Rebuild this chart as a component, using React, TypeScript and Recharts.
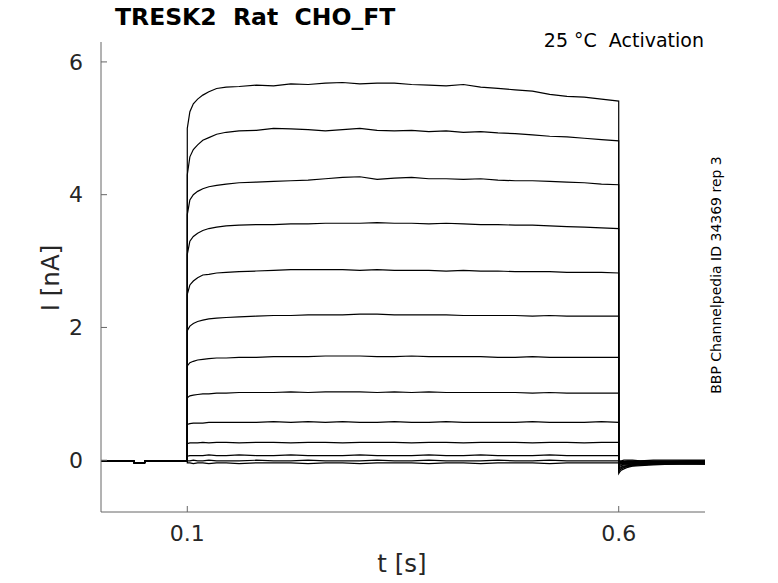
import { Line, LineChart, XAxis, YAxis } from 'recharts'

// holding period before the step (shared by every sweep)
const preT = [0, 0.038, 0.0385, 0.0505, 0.051, 0.1]
const preV = [-0.01, -0.01, -0.04, -0.04, -0.01, -0.01]

// time grid during the activation step
const pulseT = [
  0.1, 0.103, 0.107, 0.112, 0.118, 0.125, 0.134, 0.145, 0.16, 0.18, 0.2,
  0.22, 0.24, 0.26, 0.28, 0.3, 0.32, 0.34, 0.36, 0.38, 0.4, 0.42, 0.44,
  0.46, 0.48, 0.5, 0.52, 0.54, 0.56, 0.58, 0.6
]

const sweep1 = [5.0, 5.25, 5.37, 5.44, 5.5, 5.55, 5.6, 5.62, 5.63, 5.65, 5.64, 5.67, 5.66, 5.68, 5.69, 5.67, 5.68, 5.68, 5.66, 5.65, 5.64, 5.66, 5.62, 5.6, 5.58, 5.56, 5.51, 5.48, 5.47, 5.44, 5.41]
const sweep2 = [4.3, 4.57, 4.68, 4.75, 4.82, 4.86, 4.91, 4.94, 4.96, 4.97, 5.0, 4.99, 4.98, 4.96, 4.98, 5.0, 4.97, 4.96, 4.97, 4.95, 4.96, 4.94, 4.95, 4.93, 4.92, 4.9, 4.88, 4.87, 4.85, 4.83, 4.81]
const sweep3 = [3.7, 3.92, 4.0, 4.05, 4.09, 4.12, 4.14, 4.16, 4.18, 4.19, 4.2, 4.21, 4.22, 4.24, 4.26, 4.27, 4.23, 4.25, 4.26, 4.24, 4.24, 4.23, 4.24, 4.22, 4.21, 4.21, 4.2, 4.19, 4.18, 4.16, 4.15]
const sweep4 = [3.1, 3.3, 3.37, 3.42, 3.46, 3.49, 3.51, 3.53, 3.54, 3.55, 3.55, 3.56, 3.56, 3.57, 3.57, 3.57, 3.58, 3.57, 3.57, 3.56, 3.57, 3.56, 3.55, 3.55, 3.54, 3.54, 3.53, 3.52, 3.51, 3.5, 3.49]
const sweep5 = [2.5, 2.64, 2.7, 2.75, 2.79, 2.8, 2.82, 2.83, 2.84, 2.85, 2.86, 2.87, 2.87, 2.87, 2.87, 2.86, 2.87, 2.86, 2.86, 2.86, 2.85, 2.86, 2.85, 2.85, 2.84, 2.84, 2.84, 2.83, 2.83, 2.83, 2.82]
const sweep6 = [1.95, 2.02, 2.06, 2.09, 2.11, 2.13, 2.14, 2.15, 2.16, 2.17, 2.18, 2.18, 2.19, 2.19, 2.19, 2.2, 2.2, 2.19, 2.19, 2.19, 2.19, 2.18, 2.18, 2.18, 2.18, 2.17, 2.18, 2.17, 2.17, 2.17, 2.17]
const sweep7 = [1.42, 1.47, 1.49, 1.51, 1.52, 1.53, 1.54, 1.54, 1.55, 1.55, 1.56, 1.56, 1.56, 1.57, 1.57, 1.57, 1.56, 1.56, 1.57, 1.56, 1.56, 1.56, 1.56, 1.55, 1.55, 1.56, 1.55, 1.55, 1.55, 1.55, 1.55]
const sweep8 = [0.94, 0.97, 0.98, 0.99, 1.0, 1.0, 1.01, 1.01, 1.02, 1.02, 1.02, 1.03, 1.02, 1.03, 1.03, 1.03, 1.02, 1.03, 1.02, 1.03, 1.02, 1.02, 1.02, 1.02, 1.02, 1.01, 1.02, 1.01, 1.01, 1.01, 1.01]
const sweep9 = [0.54, 0.55, 0.56, 0.56, 0.56, 0.57, 0.57, 0.57, 0.57, 0.57, 0.58, 0.57, 0.58, 0.57, 0.58, 0.57, 0.57, 0.58, 0.57, 0.57, 0.58, 0.57, 0.57, 0.57, 0.57, 0.58, 0.57, 0.57, 0.57, 0.58, 0.57]
const sweep10 = [0.25, 0.26, 0.26, 0.26, 0.27, 0.26, 0.27, 0.27, 0.26, 0.27, 0.27, 0.26, 0.27, 0.27, 0.26, 0.27, 0.27, 0.27, 0.26, 0.27, 0.27, 0.26, 0.27, 0.27, 0.27, 0.26, 0.27, 0.27, 0.26, 0.27, 0.27]
const sweep11 = [0.06, 0.07, 0.07, 0.07, 0.07, 0.08, 0.07, 0.07, 0.08, 0.07, 0.07, 0.08, 0.07, 0.07, 0.07, 0.08, 0.07, 0.07, 0.07, 0.08, 0.07, 0.07, 0.08, 0.07, 0.07, 0.07, 0.08, 0.07, 0.07, 0.07, 0.07]
const sweep12 = [-0.01, -0.01, 0, -0.01, -0.01, 0, -0.01, -0.01, -0.01, 0, -0.01, -0.01, 0, -0.01, -0.01, -0.01, 0, -0.01, -0.01, 0, -0.01, -0.01, -0.01, 0, -0.01, -0.01, 0, -0.01, -0.01, -0.01, -0.01]
const sweep13 = [-0.04, -0.04, -0.05, -0.04, -0.04, -0.05, -0.04, -0.04, -0.05, -0.04, -0.04, -0.04, -0.05, -0.04, -0.04, -0.05, -0.04, -0.04, -0.04, -0.05, -0.04, -0.04, -0.05, -0.04, -0.04, -0.04, -0.05, -0.04, -0.04, -0.04, -0.04]

// deactivation tail after the step
const tailT = [0.6, 0.601, 0.603, 0.606, 0.61, 0.616, 0.625, 0.64, 0.66, 0.68, 0.7]

const tail1 = [-0.2, -0.18, -0.15, -0.13, -0.11, -0.09, -0.08, -0.07, -0.06, -0.06, -0.06]
const tail2 = [-0.17, -0.15, -0.13, -0.11, -0.1, -0.08, -0.07, -0.06, -0.06, -0.05, -0.06]
const tail3 = [-0.14, -0.13, -0.11, -0.1, -0.09, -0.07, -0.06, -0.06, -0.05, -0.05, -0.05]
const tail4 = [-0.12, -0.11, -0.1, -0.09, -0.08, -0.07, -0.06, -0.05, -0.05, -0.05, -0.05]
const tail5 = [-0.1, -0.09, -0.08, -0.07, -0.07, -0.06, -0.05, -0.05, -0.05, -0.04, -0.04]
const tail6 = [-0.08, -0.07, -0.07, -0.06, -0.06, -0.05, -0.05, -0.04, -0.04, -0.04, -0.04]
const tail7 = [-0.06, -0.06, -0.05, -0.05, -0.05, -0.04, -0.04, -0.04, -0.03, -0.03, -0.03]
const tail8 = [-0.05, -0.05, -0.04, -0.04, -0.04, -0.04, -0.03, -0.03, -0.03, -0.03, -0.03]
const tail9 = [-0.04, -0.04, -0.03, -0.03, -0.03, -0.03, -0.03, -0.02, -0.02, -0.02, -0.02]
const tail10 = [-0.03, -0.03, -0.03, -0.02, -0.02, -0.02, -0.02, -0.02, -0.02, -0.01, -0.01]
const tail11 = [-0.02, -0.02, -0.02, -0.02, -0.01, -0.01, -0.01, -0.01, -0.01, -0.01, -0.01]
const tail12 = [-0.01, -0.01, -0.01, 0, 0, 0, -0.01, 0, 0, 0, 0]
const tail13 = [-0.04, -0.04, -0.03, -0.03, -0.03, -0.03, -0.03, -0.03, -0.03, -0.03, -0.03]

const sweeps = [sweep1, sweep2, sweep3, sweep4, sweep5, sweep6, sweep7, sweep8, sweep9, sweep10, sweep11, sweep12, sweep13]
const tails = [tail1, tail2, tail3, tail4, tail5, tail6, tail7, tail8, tail9, tail10, tail11, tail12, tail13]

const xTicks = [0.1, 0.6]
const yTicks = [0, 2, 4, 6]

const traces = sweeps.map((sweep, i) => [
  ...preT.map((t, j) => ({ t, v: preV[j] })),
  ...pulseT.map((t, j) => ({ t, v: sweep[j] })),
  ...tailT.map((t, j) => ({ t, v: tails[i][j] }))
])

const font = '"DejaVu Sans", sans-serif'
const axisColor = '#666'
const textColor = '#262626'

export default function App() {
  return (
    <div style={{ position: 'absolute', left: 0, top: 0, width: 778, height: 583, background: '#fff', fontFamily: font }}>
      <LineChart
        width={778}
        height={583}
        margin={{ top: 42, right: 73, bottom: 31, left: 41 }}
      >
        <XAxis
          dataKey="t"
          type="number"
          domain={[0, 0.7]}
          ticks={xTicks}
          height={40}
          allowDataOverflow
          stroke={axisColor}
          tickSize={-6}
          tickMargin={19}
          tick={{ fill: textColor, fontSize: 22, fontFamily: font }}
        />
        <YAxis
          type="number"
          domain={[-0.78, 6.3]}
          ticks={yTicks}
          width={60}
          allowDataOverflow
          stroke={axisColor}
          tickSize={-6}
          tickMargin={24}
          tick={{ fill: textColor, fontSize: 22, fontFamily: font }}
        />
        {traces.map((data, i) => (
          <Line
            key={i}
            data={data}
            dataKey="v"
            type="linear"
            stroke="#000"
            strokeWidth={1.2}
            dot={false}
            isAnimationActive={false}
          />
        ))}
      </LineChart>
      <div style={{ position: 'absolute', left: 115, top: 3, fontSize: 23.5, fontWeight: 'bold', whiteSpace: 'pre', color: '#000' }}>
        {'TRESK2  Rat  CHO_FT'}
      </div>
      <div style={{ position: 'absolute', right: 74, top: 29, fontSize: 19, whiteSpace: 'pre', color: '#000' }}>
        {'25 °C  Activation'}
      </div>
      <div style={{ position: 'absolute', left: 402, top: 549, transform: 'translateX(-50%)', fontSize: 24.5, whiteSpace: 'pre', color: textColor }}>
        t [s]
      </div>
      <div style={{ position: 'absolute', left: 50, top: 278, transform: 'translate(-50%, -50%) rotate(-90deg)', fontSize: 24.5, whiteSpace: 'pre', color: textColor }}>
        I [nA]
      </div>
      <div style={{ position: 'absolute', left: 716, top: 275, transform: 'translate(-50%, -50%) rotate(-90deg)', fontSize: 14, whiteSpace: 'pre', color: '#000' }}>
        BBP Channelpedia ID 34369 rep 3
      </div>
    </div>
  )
}
